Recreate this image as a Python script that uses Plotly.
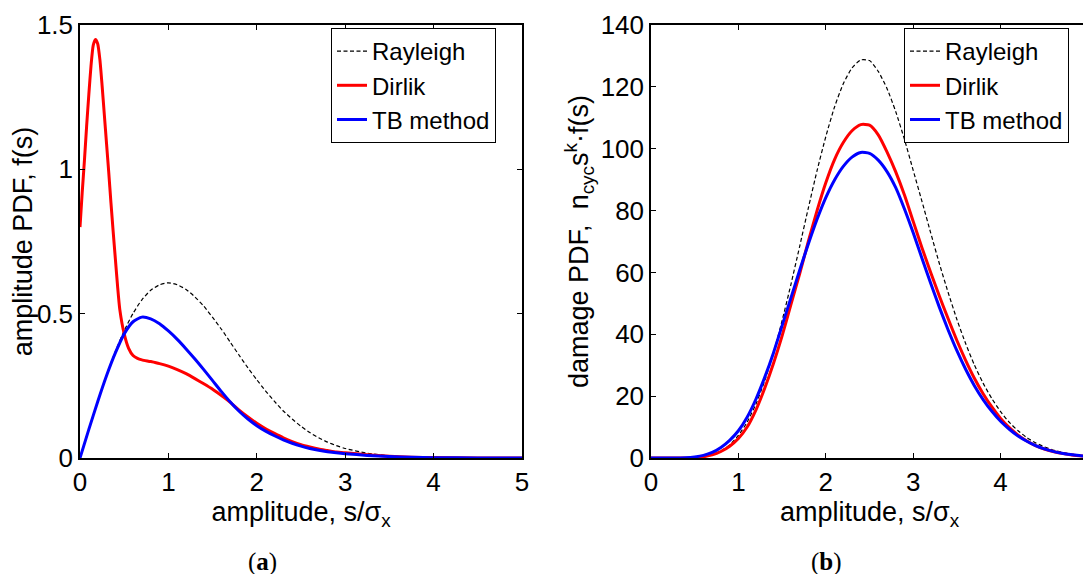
import plotly.graph_objects as go

# ---------------- data: panel (a) amplitude PDF ----------------
s_a = [0.0, 0.1, 0.2, 0.3, 0.4, 0.5, 0.6, 0.7, 0.8, 0.9, 1.0, 1.1, 1.2, 1.3, 1.4,
       1.5, 1.6, 1.7, 1.8, 1.9, 2.0, 2.1, 2.2, 2.3, 2.4, 2.5, 2.6, 2.7, 2.8, 2.9,
       3.0, 3.25, 3.5, 3.75, 4.0, 4.5, 5.0]
rayleigh_a = [0.0, 0.0995, 0.196, 0.287, 0.369, 0.441, 0.501, 0.548, 0.581, 0.600,
              0.607, 0.600, 0.584, 0.558, 0.526, 0.487, 0.446, 0.401, 0.356, 0.312,
              0.271, 0.232, 0.196, 0.163, 0.135, 0.110, 0.088, 0.070, 0.055, 0.043,
              0.033, 0.0166, 0.0077, 0.0033, 0.0013, 0.0002, 0.00002]
tb_a = [0.0, 0.099, 0.195, 0.285, 0.364, 0.430, 0.472, 0.488, 0.482, 0.465,
        0.440, 0.411, 0.378, 0.343, 0.306, 0.268, 0.230, 0.194, 0.162, 0.135,
        0.112, 0.093, 0.077, 0.063, 0.051, 0.041, 0.033, 0.027, 0.022, 0.018,
        0.015, 0.009, 0.005, 0.0025, 0.0012, 0.0002, 0.00003]

s_dirlik_a = [0.0, 0.025, 0.05, 0.075, 0.1, 0.125, 0.15, 0.175, 0.2, 0.225, 0.25,
              0.275, 0.3, 0.325, 0.35, 0.375, 0.4, 0.425, 0.45, 0.5, 0.55, 0.6,
              0.65, 0.7, 0.8, 0.9, 1.0, 1.1, 1.2, 1.3, 1.4, 1.5, 1.6, 1.7, 1.8,
              1.9, 2.0, 2.1, 2.2, 2.3, 2.4, 2.5, 2.6, 2.7, 2.8, 2.9, 3.0, 3.25,
              3.5, 3.75, 4.0, 4.5, 5.0]
dirlik_a = [0.80, 0.92, 1.03, 1.15, 1.26, 1.36, 1.43, 1.45, 1.435, 1.38, 1.29,
            1.19, 1.09, 0.99, 0.885, 0.785, 0.69, 0.595, 0.515, 0.43, 0.38, 0.355,
            0.345, 0.340, 0.334, 0.327, 0.318, 0.306, 0.292, 0.275, 0.257, 0.238,
            0.216, 0.193, 0.166, 0.142, 0.120, 0.101, 0.085, 0.070, 0.057, 0.046,
            0.038, 0.031, 0.026, 0.021, 0.018, 0.011, 0.006, 0.003, 0.0015,
            0.0003, 0.0001]

# ---------------- data: panel (b) damage PDF ----------------
s_b = [0.0, 0.1, 0.2, 0.3, 0.4, 0.5, 0.6, 0.7, 0.8, 0.9, 1.0, 1.1, 1.2, 1.3, 1.4,
       1.5, 1.6, 1.7, 1.8, 1.9, 2.0, 2.1, 2.2, 2.3, 2.4, 2.5, 2.6, 2.7, 2.8, 2.9,
       3.0, 3.1, 3.2, 3.3, 3.4, 3.5, 3.6, 3.7, 3.8, 3.9, 4.0, 4.1, 4.2, 4.3, 4.4,
       4.5, 4.6, 4.7, 4.8, 4.9, 5.0]
rayleigh_b = [0.0, 0.0, 0.0008, 0.0087, 0.048, 0.165, 0.468, 1.10, 2.28, 4.25,
              7.28, 11.6, 17.4, 24.9, 33.9, 44.4, 56.0, 68.3, 80.8, 92.9,
              103.9, 113.5, 121.0, 126.1, 128.7, 128.5, 125.0, 119.5, 112.0, 103.0,
              93.0, 83.0, 72.8, 62.8, 53.5, 44.8, 37.0, 30.1, 24.2, 19.2,
              15.0, 11.5, 8.8, 6.6, 4.9, 3.6, 2.6, 1.85, 1.3, 0.9, 0.62]
dirlik_b = [0.0, 0.0, 0.0005, 0.005, 0.03, 0.12, 0.40, 1.0, 2.1, 3.8,
            6.3, 10.0, 15.5, 22.5, 30.5, 39.5, 49.5, 59.5, 70.0, 80.0,
            89.0, 96.5, 102.0, 105.8, 107.8, 107.6, 104.5, 99.0, 92.5, 85.0,
            76.5, 68.0, 60.0, 52.3, 45.0, 38.0, 31.6, 25.8, 20.8, 16.5,
            12.8, 9.8, 7.4, 5.5, 4.0, 2.9, 2.1, 1.5, 1.05, 0.75, 0.5]
tb_b = [0.0, 0.0, 0.001, 0.012, 0.08, 0.35, 0.85, 1.8, 3.4, 5.7,
        8.8, 13.2, 19.0, 26.0, 33.9, 42.8, 51.7, 60.6, 69.2, 77.2,
        84.2, 89.9, 94.3, 97.3, 98.8, 98.5, 96.3, 92.6, 87.4, 80.5,
        72.8, 64.6, 56.5, 48.7, 41.4, 34.7, 28.7, 23.4, 18.9, 15.1,
        11.9, 9.3, 7.1, 5.4, 4.0, 2.95, 2.15, 1.55, 1.1, 0.78, 0.55]

series_names = ["Rayleigh", "Dirlik", "TB method"]
x_ticks = [0, 1, 2, 3, 4, 5]
y_ticks_a = [0, 0.5, 1, 1.5]
y_ticklabels_a = ["0", "0.5", "1", "1.5"]
y_ticks_b = [0, 20, 40, 60, 80, 100, 120, 140]

# page body has an 8px margin, so the figure is 8px smaller and coordinates shift by 8
OFF = 8
W, H = 1091 - OFF, 574 - OFF
def px(x):
    return (x - OFF) / W
def py(y):
    return 1 - (y - OFF) / H

FONT = "Liberation Sans, Arial, Helvetica, sans-serif"

dash_style = dict(color="black", width=1.2, dash="4px,2.5px")
red_style = dict(color="#ff0000", width=3)
blue_style = dict(color="#0000ff", width=3)

fig = go.Figure()

def add(x, y, name, style, xa, ya, lg):
    fig.add_trace(go.Scatter(x=x, y=y, mode="lines", name=name,
                             line=dict(shape="spline", smoothing=0.6, **style),
                             xaxis=xa, yaxis=ya, legend=lg, cliponaxis=False))

add(s_a, rayleigh_a, series_names[0], dash_style, "x", "y", "legend")
add(s_dirlik_a, dirlik_a, series_names[1], red_style, "x", "y", "legend")
add(s_a, tb_a, series_names[2], blue_style, "x", "y", "legend")

add(s_b, rayleigh_b, series_names[0], dash_style, "x2", "y2", "legend2")
add(s_b, dirlik_b, series_names[1], red_style, "x2", "y2", "legend2")
add(s_b, tb_b, series_names[2], blue_style, "x2", "y2", "legend2")

axis_common = dict(showline=True, linecolor="black", linewidth=1.5, mirror="ticks",
                   ticks="inside", ticklen=5, tickwidth=1, tickcolor="black",
                   showgrid=False, zeroline=False, automargin=False,
                   tickfont=dict(family=FONT, size=26, color="black"))
title_font = dict(family=FONT, size=27, color="black")

ydom = [py(458), py(25)]
legend_common = dict(xanchor="left", yanchor="top", bordercolor="black", borderwidth=1,
                     bgcolor="white", font=dict(family=FONT, size=24, color="black"),
                     itemwidth=30, tracegroupgap=0)
fig.update_layout(
    width=W, height=H,
    margin=dict(l=0, r=0, t=0, b=0),
    paper_bgcolor="white", plot_bgcolor="white",
    font=dict(family=FONT, color="black"),
    xaxis=dict(domain=[px(80), px(522)], anchor="y", range=[0, 5], tickvals=x_ticks,
               title=dict(text="amplitude, s/σ<sub>x</sub>", font=title_font, standoff=4),
               **axis_common),
    yaxis=dict(domain=ydom, anchor="x", range=[0, 1.5], tickvals=y_ticks_a,
               ticktext=y_ticklabels_a,
               title=dict(text="amplitude PDF, f(s)", font=title_font, standoff=6),
               **axis_common),
    xaxis2=dict(domain=[px(651), px(1088)], anchor="y2", range=[0, 5], tickvals=x_ticks,
                title=dict(text="amplitude, s/σ<sub>x</sub>", font=title_font, standoff=4),
                **axis_common),
    yaxis2=dict(domain=ydom, anchor="x2", range=[0, 140], tickvals=y_ticks_b,
                title=dict(text="damage PDF, \u00a0n<sub>cyc</sub>s<sup>k</sup>·f(s)",
                           font=title_font, standoff=4),
                **axis_common),
    legend=dict(x=px(331), y=py(28), **legend_common),
    legend2=dict(x=px(904), y=py(28), **legend_common),
    showlegend=True,
)

cap_font = dict(family="Liberation Serif, Times New Roman, serif", size=25, color="black")
fig.add_annotation(text="(<b>a</b>)", x=px(262), y=py(562), xref="paper", yref="paper",
                   xanchor="center", yanchor="middle", showarrow=False, font=cap_font)
fig.add_annotation(text="(<b>b</b>)", x=px(826), y=py(562), xref="paper", yref="paper",
                   xanchor="center", yanchor="middle", showarrow=False, font=cap_font)

fig.write_html("out.html")
